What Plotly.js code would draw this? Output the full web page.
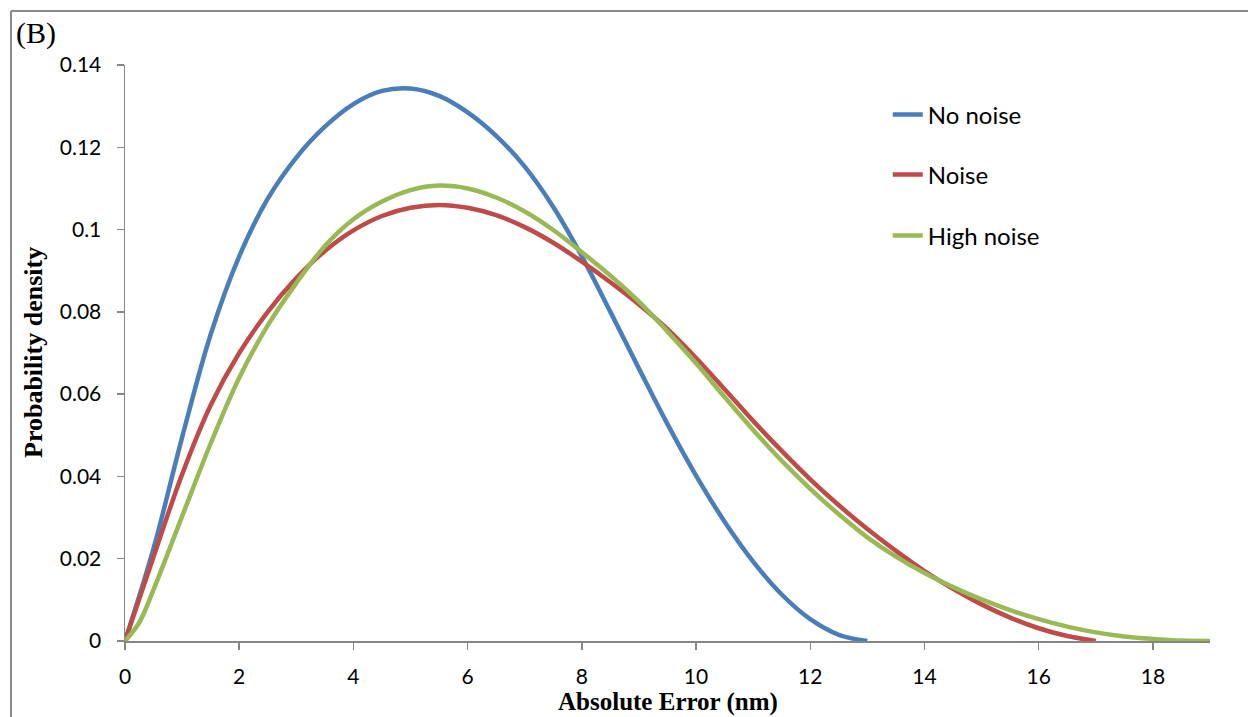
<!DOCTYPE html>
<html>
<head>
<meta charset="utf-8">
<script src="https://cdn.plot.ly/plotly-3.0.1.min.js"></script>
<style>html,body{margin:0;padding:0;background:#fff;}#chart{width:1248px;height:717px;}</style>
</head>
<body>
<div id="chart"></div>
<script>
// Absolute error (nm) sample points
const xNoNoise = [0,0.5,1,1.5,2,2.5,3,3.5,4,4.5,5,5.5,6,6.5,7,7.5,8,8.5,9,9.5,10,10.5,11,11.5,12,12.5,13];
const yNoNoise = [0,0.0225,0.0495,0.0745,0.0935,0.1075,0.1175,0.125,0.1305,0.1337,0.1343,0.1325,0.1285,0.1228,0.1153,0.1055,0.0935,0.08,0.0662,0.0527,0.0402,0.029,0.0193,0.0113,0.0053,0.0015,0];

const xNoise = [0,0.5,1,1.5,2,2.5,3,3.5,4,4.5,5,5.5,6,6.5,7,7.5,8,8.5,9,9.5,10,10.5,11,11.5,12,12.5,13,13.5,14,14.5,15,15.5,16,16.5,17];
const yNoise = [0,0.0205,0.0405,0.0573,0.07,0.08,0.0882,0.0948,0.0998,0.1033,0.1053,0.106,0.1053,0.1035,0.1006,0.0968,0.0922,0.0872,0.0818,0.0758,0.0688,0.0612,0.0535,0.0462,0.0393,0.033,0.0272,0.0219,0.017,0.0127,0.0089,0.0057,0.0031,0.0012,0];

const xHigh = [0,0.25,0.5,1,1.5,2,2.5,3,3.5,4,4.5,5,5.5,6,6.5,7,7.5,8,8.5,9,9.5,10,10.5,11,11.5,12,12.5,13,13.5,14,14.5,15,15.5,16,16.5,17,17.5,18,18.5,19];
const yHigh = [0,0.0045,0.0125,0.0303,0.048,0.064,0.0767,0.087,0.096,0.1025,0.1068,0.1096,0.1107,0.11,0.1078,0.1044,0.0999,0.0945,0.0888,0.0825,0.0752,0.0675,0.0593,0.0513,0.0438,0.037,0.0308,0.0252,0.0205,0.0165,0.0131,0.0101,0.0075,0.0053,0.0035,0.0021,0.0011,0.0005,0.0001,0];

const seriesNames = ["No noise","Noise","High noise"];
const seriesColors = ["#4A7EBB","#BE4B48","#98B954"];
const xTicks = [0,2,4,6,8,10,12,14,16,18];
const yTicks = [0,0.02,0.04,0.06,0.08,0.1,0.12,0.14];

const xs = [xNoNoise,xNoise,xHigh];
const ys = [yNoNoise,yNoise,yHigh];
const legendIds = ["legend","legend2","legend3"];

const traces = xs.map((x,i)=>({
  x:x, y:ys[i], type:"scatter", mode:"lines", name:seriesNames[i],
  line:{color:seriesColors[i], width:4.5, shape:"spline", smoothing:1},
  legend:legendIds[i], cliponaxis:false
}));

const axisColor = "#868686";
const tickFont = {family:"Lato, 'Open Sans', sans-serif", size:21, color:"#000"};
const legFont = {family:"Lato, 'Open Sans', sans-serif", size:24, color:"#000"};
const legBase = {font:legFont, bgcolor:"rgba(0,0,0,0)", xanchor:"left", yanchor:"middle", itemwidth:30};
const legX = 0.703;

const layout = {
  width:1248, height:717,
  margin:{l:125, r:38, t:65, b:76, pad:0},
  paper_bgcolor:"#fff", plot_bgcolor:"#fff",
  showlegend:true,
  legend:Object.assign({x:legX, y:(641-115)/576}, legBase),
  legend2:Object.assign({x:legX, y:(641-175)/576}, legBase),
  legend3:Object.assign({x:legX, y:(641-236)/576}, legBase),
  xaxis:{range:[0,19], tickvals:xTicks, ticktext:xTicks.map(String), showgrid:false, zeroline:false,
    showline:true, linecolor:axisColor, linewidth:1.5, ticks:"outside", ticklen:7, tickwidth:1.5, tickcolor:axisColor,
    tickfont:tickFont, ticklabelstandoff:9, fixedrange:true},
  yaxis:{range:[0,0.14], tickvals:yTicks, ticktext:yTicks.map(v=>String(v)), showgrid:false, zeroline:false,
    showline:true, linecolor:axisColor, linewidth:1.5, ticks:"outside", ticklen:7, tickwidth:1.5, tickcolor:axisColor,
    tickfont:tickFont, ticklabelstandoff:11, fixedrange:true},
  annotations:[
    {text:"<b>Absolute Error (nm)</b>", xref:"paper", yref:"paper", x:(668-125)/1085, y:(641-702)/576,
      xanchor:"center", yanchor:"middle", showarrow:false, font:{family:"'Liberation Serif', serif", size:25, color:"#000"}},
    {text:"<b>Probability density</b>", xref:"paper", yref:"paper", x:(33-125)/1085, y:(641-353)/576, textangle:-90,
      xanchor:"center", yanchor:"middle", showarrow:false, font:{family:"'Liberation Serif', serif", size:26, color:"#000"}},
    {text:"(B)", xref:"paper", yref:"paper", x:(14-125)/1085, y:(641-33)/576,
      xanchor:"left", yanchor:"middle", showarrow:false, font:{family:"'Liberation Serif', serif", size:30, color:"#000"}}
  ],
  shapes:[
    {type:"line", xref:"paper", yref:"paper", x0:(11-125)/1085, x1:(11-125)/1085, y0:(641-11)/576, y1:(641-720)/576,
      line:{color:"#8a8a8a", width:2}},
    {type:"line", xref:"paper", yref:"paper", x0:(11-125)/1085, x1:(1250-125)/1085, y0:(641-11)/576, y1:(641-11)/576,
      line:{color:"#8a8a8a", width:2}}
  ]
};

Plotly.newPlot("chart", traces, layout, {displayModeBar:false, staticPlot:true});
</script>
</body>
</html>
